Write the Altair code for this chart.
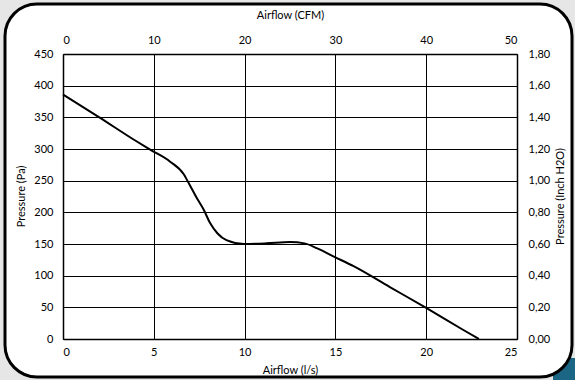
import altair as alt
import pandas as pd

# Curve data: Airflow (l/s) vs Pressure (Pa)
flow_ls = [0, 2, 4, 4.8, 5.9, 6.65, 6.85, 7.4, 7.75, 8.1, 8.5, 9.0, 9.96, 11.2, 12.5, 13.3, 14.0, 15.0, 16.0, 18.0, 20.0, 22.0, 22.9]
pressure_pa = [386, 350, 313, 299, 280, 260, 250, 221, 204, 183, 167, 156, 150, 151, 153, 151, 143, 129, 115, 82, 49, 15, 0]

# Secondary axes
cfm_ticks = [0, 10, 20, 30, 40, 50]
inch_ticks = [0.0, 0.2, 0.4, 0.6, 0.8, 1.0, 1.2, 1.4, 1.6, 1.8]

FONT = "Lato"
FS = 11

df = pd.DataFrame({"flow": flow_ls, "pa": pressure_pa})
sec = pd.DataFrame({"cfm": [0, 50], "inch": [0.0, 1.8]})

one = alt.Data(values=[{"a": 1}])

blue_corner = alt.Chart(one).mark_rect(color="#1b6585").encode(
    x=alt.value(490), x2=alt.value(512), y=alt.value(304), y2=alt.value(326)
)
frame = alt.Chart(one).mark_rect(
    fill="white", stroke="black", strokeWidth=3, cornerRadius=32
).encode(
    x=alt.value(-58), x2=alt.value(509), y=alt.value(-50), y2=alt.value(323)
)

common = dict(ticks=False, domain=True, domainColor="black", domainWidth=1.5, zindex=1,
              titleBaseline="middle", titleAlign="center")

line = alt.Chart(df).mark_line(color="black", strokeWidth=2, interpolate="monotone").encode(
    x=alt.X("flow:Q", scale=alt.Scale(domain=[0, 25], nice=False),
            axis=alt.Axis(orient="bottom", title="Airflow (l/s)", values=[0, 5, 10, 15, 20, 25],
                          grid=True, gridColor="black", gridOpacity=1, gridWidth=1,
                          labelPadding=7, titleX=227, titleY=31, **common)),
    y=alt.Y("pa:Q", scale=alt.Scale(domain=[0, 450], nice=False),
            axis=alt.Axis(orient="left", title="Pressure (Pa)", values=list(range(0, 451, 50)),
                          grid=True, gridColor="black", gridOpacity=1, gridWidth=1,
                          labelPadding=10, titleX=-42, titleY=142, titleAngle=-90, **common)),
)

secondary = alt.Chart(sec).mark_point(opacity=0).encode(
    x=alt.X("cfm:Q", scale=alt.Scale(domain=[0, 50], nice=False),
            axis=alt.Axis(orient="top", title="Airflow (CFM)", values=cfm_ticks, grid=False,
                          labelPadding=9, titleX=227, titleY=-39, **common)),
    y=alt.Y("inch:Q", scale=alt.Scale(domain=[0, 1.8], nice=False),
            axis=alt.Axis(orient="right", title="Pressure (Inch H2O)", values=inch_ticks, grid=False,
                          labelPadding=11, titleX=43, titleY=142, titleAngle=-90,
                          labelExpr="replace(format(datum.value, '.2f'), '.', ',')", **common)),
)

chart = alt.layer(blue_corner, frame, line, secondary).resolve_scale(
    x="independent", y="independent"
).properties(
    width=454, height=285,
    background="#e6e6e6",
    padding={"left": 63, "top": 54, "right": 58, "bottom": 41},
    autosize=alt.AutoSizeParams(type="none"),
).configure_view(
    stroke=None
).configure_axis(
    labelFont=FONT, titleFont=FONT, labelFontSize=FS, titleFontSize=FS,
    labelColor="black", titleColor="black", titleFontWeight="normal"
)

chart.save("out.html", embed_options={"renderer": "svg", "actions": False})
